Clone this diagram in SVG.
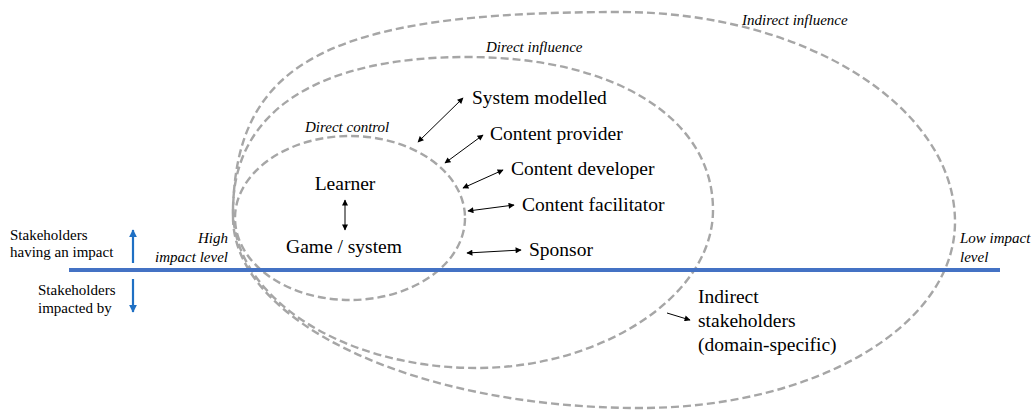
<svg xmlns="http://www.w3.org/2000/svg" width="1035" height="410" viewBox="0 0 1035 410">
<style>
.zone{fill:none;stroke:#A6A6A6;stroke-width:2.4;stroke-dasharray:8 4}
.lab{font-family:"Liberation Serif","Times New Roman",serif;font-size:19.5px;fill:#000}
.it{font-family:"Liberation Serif","Times New Roman",serif;font-style:italic;font-size:15px;fill:#000}
.sm{font-family:"Liberation Serif","Times New Roman",serif;font-size:15px;fill:#000}
.con{stroke:#000;stroke-width:1;fill:none}
.blue{stroke:#1F70C4;stroke-width:2.2;fill:none}
</style>
<defs>
<marker id="ah" viewBox="0 0 10 10" refX="9" refY="5" markerWidth="7" markerHeight="6" markerUnits="userSpaceOnUse" orient="auto-start-reverse">
<path d="M0,0 L10,5 L0,10 Z" fill="#000"/>
</marker>
<marker id="bh" viewBox="0 0 10 10" refX="9" refY="5" markerWidth="8" markerHeight="8" markerUnits="userSpaceOnUse" orient="auto">
<path d="M0,0 L10,5 L0,10 Z" fill="#1F70C4"/>
</marker>
</defs>

<g id="zone-indirect-influence">
<path class="zone" d="M233,217 C233,60 330,12 620,12 C805,12 955,107 955,222 C955,326 815,408 640,408 C415,408 233,322 233,217 Z"/>
<text class="it" x="742" y="25">Indirect influence</text>
</g>
<g id="zone-direct-influence">
<path class="zone" d="M233,210 C233,110 320,57 467,57 C615,57 713,118 713,210 C713,297 600,368 477,368 C342,368 233,297 233,210 Z"/>
<text class="it" x="486" y="52">Direct influence</text>
</g>
<g id="zone-direct-control">
<ellipse class="zone" cx="350" cy="218" rx="115" ry="82"/>
<text class="it" x="305" y="132">Direct control</text>
</g>

<g id="impact-axis">
<line x1="69" y1="270" x2="1000" y2="270" stroke="#4472C4" stroke-width="4"/>
<line class="blue" x1="133" y1="263" x2="133" y2="230" marker-end="url(#bh)"/>
<line class="blue" x1="133" y1="279" x2="133" y2="312" marker-end="url(#bh)"/>
<text class="sm" x="10" y="240">Stakeholders</text>
<text class="sm" x="10" y="257">having an impact</text>
<text class="sm" x="38" y="295">Stakeholders</text>
<text class="sm" x="38" y="313">impacted by</text>
<text class="it" x="228" y="243" text-anchor="end">High</text>
<text class="it" x="228" y="262" text-anchor="end">impact level</text>
<text class="it" x="960" y="243">Low impact</text>
<text class="it" x="960" y="262">level</text>
</g>

<g id="node-learner"><text class="lab" x="345" y="190" text-anchor="middle">Learner</text></g>
<g id="node-game"><text class="lab" x="344" y="253" text-anchor="middle">Game / system</text></g>
<g id="node-system-modelled"><text class="lab" x="472" y="104">System modelled</text></g>
<g id="node-content-provider"><text class="lab" x="490" y="140">Content provider</text></g>
<g id="node-content-developer"><text class="lab" x="511" y="175">Content developer</text></g>
<g id="node-content-facilitator"><text class="lab" x="522" y="211">Content facilitator</text></g>
<g id="node-sponsor"><text class="lab" x="529" y="256">Sponsor</text></g>
<g id="node-indirect-stakeholders">
<text class="lab" x="698" y="303">Indirect</text>
<text class="lab" x="698" y="327">stakeholders</text>
<text class="lab" x="698" y="351">(domain-specific)</text>
</g>

<g id="connectors">
<line class="con" x1="418" y1="142" x2="463" y2="98" marker-start="url(#ah)" marker-end="url(#ah)"/>
<line class="con" x1="445" y1="163" x2="483" y2="135" marker-start="url(#ah)" marker-end="url(#ah)"/>
<line class="con" x1="463" y1="188" x2="503" y2="170" marker-start="url(#ah)" marker-end="url(#ah)"/>
<line class="con" x1="468" y1="211" x2="514" y2="205" marker-start="url(#ah)" marker-end="url(#ah)"/>
<line class="con" x1="467" y1="253" x2="521" y2="250" marker-start="url(#ah)" marker-end="url(#ah)"/>
<line class="con" x1="345" y1="200" x2="345" y2="230" marker-start="url(#ah)" marker-end="url(#ah)"/>
<line class="con" x1="667" y1="313" x2="690" y2="320" marker-end="url(#ah)"/>
</g>
</svg>
